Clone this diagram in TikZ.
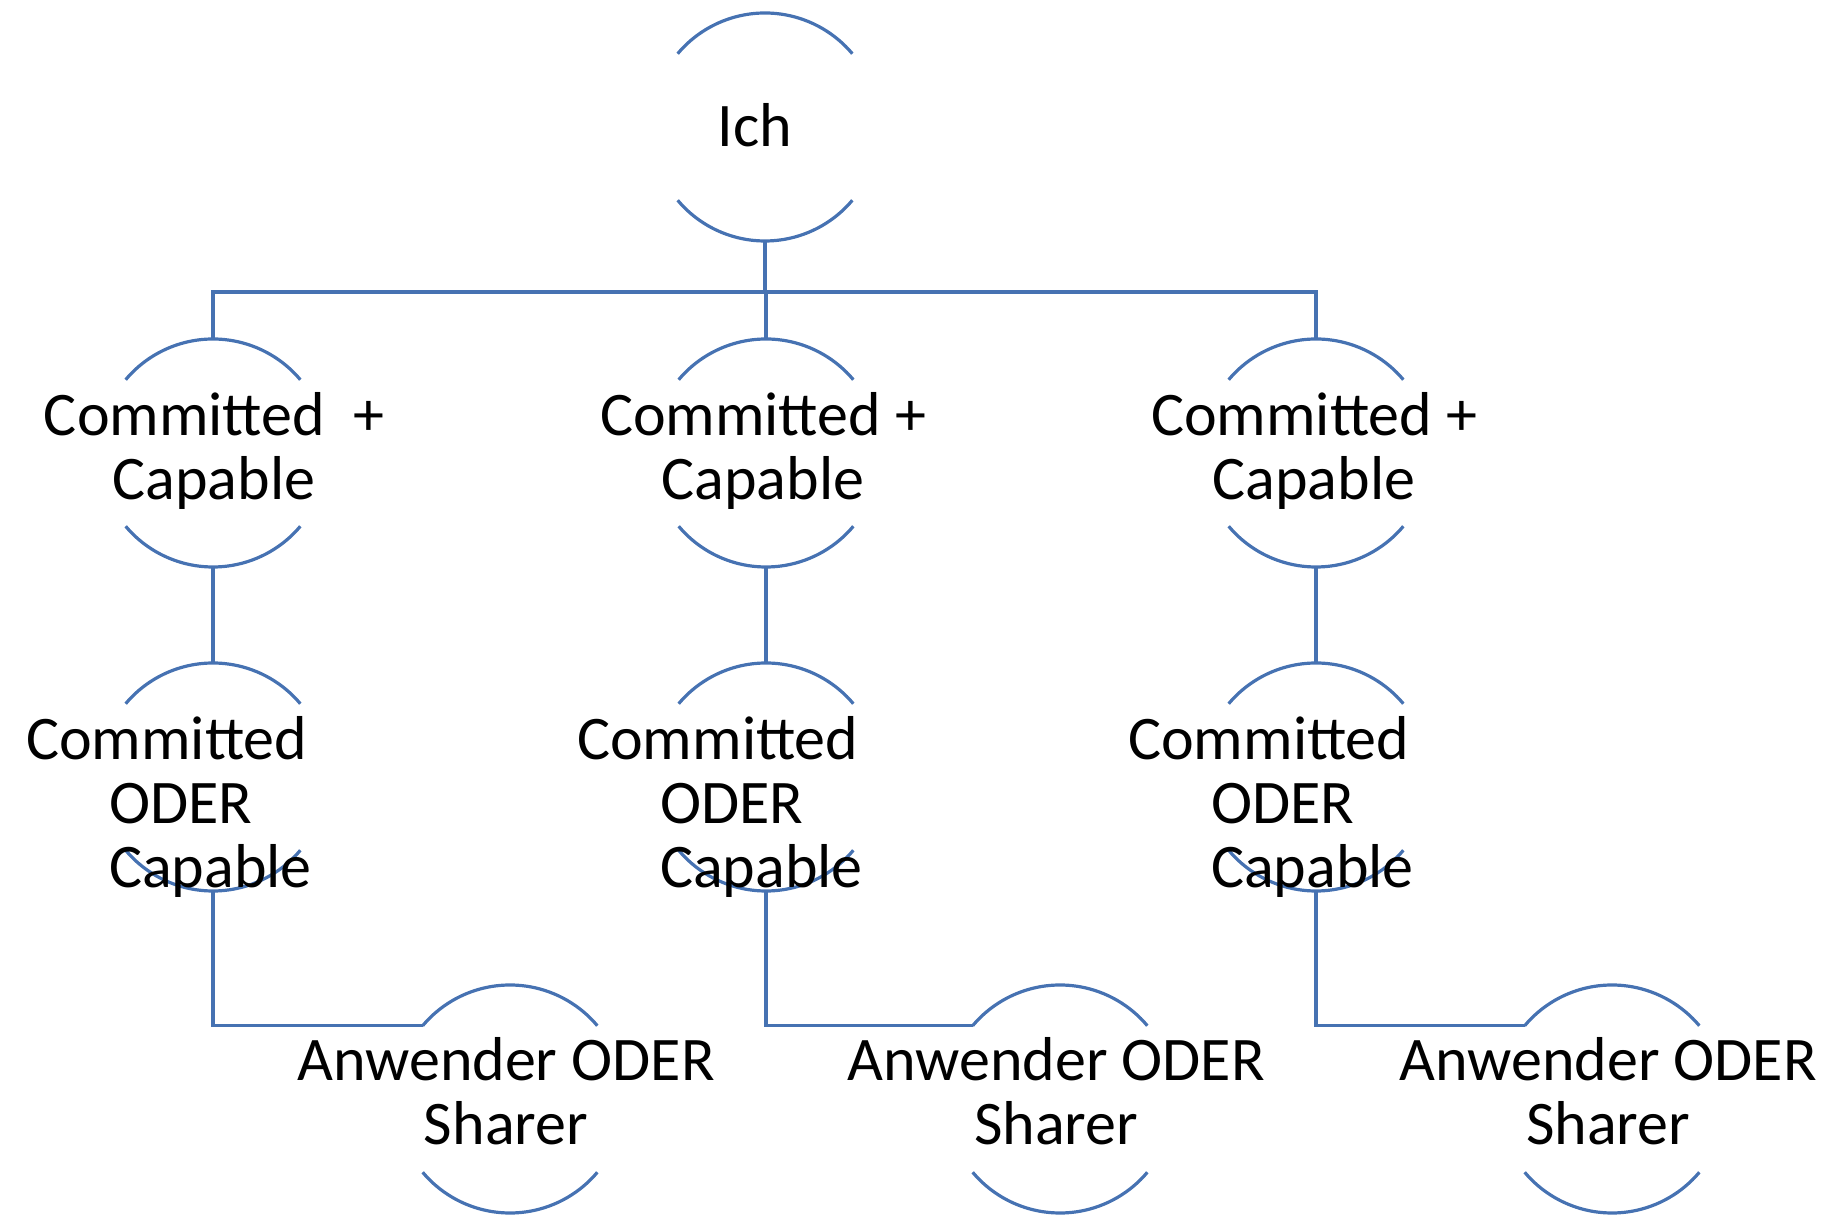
\documentclass[tikz,border=0pt]{standalone}
\usepackage{fontspec}
\setmainfont{Carlito}
\usepackage{xcolor}
\definecolor{ringblue}{RGB}{70,114,178}

% top and bottom arc of one ring
\newcommand{\halfarcs}[1]{%
  \draw[ring] (#1.140) arc[start angle=140,end angle=40,radius=114pt];
  \draw[ring] (#1.220) arc[start angle=220,end angle=320,radius=114pt];}

\begin{document}
\begin{tikzpicture}[x=1pt, y=1pt,
  ring/.style={draw=ringblue, line width=3.2pt},
  link/.style={draw=ringblue, line width=3.2pt},
  spot/.style={circle, minimum size=228pt, inner sep=0pt, outer sep=0pt},
  word/.style={font=\fontsize{62}{64}\selectfont, anchor=base, align=center, inner sep=0pt}]
	\useasboundingbox (0,0) rectangle (1825,1215);
	\node[spot] (ich) at (765,1088) {};
	\node[spot] (cc1) at (213,762) {};
	\node[spot] (cc2) at (766,762) {};
	\node[spot] (cc3) at (1316,762) {};
	\node[spot] (co1) at (213,438) {};
	\node[spot] (co2) at (766,438) {};
	\node[spot] (co3) at (1316,438) {};
	\node[spot] (as1) at (510,116) {};
	\node[spot] (as2) at (1060,116) {};
	\node[spot] (as3) at (1612,116) {};
	\coordinate (bus) at (0,923);
	\draw[link] (ich.south) -- (ich.south |- bus);
	\draw[link] (cc1.north) -- (cc1.north |- bus) -- (cc3.north |- bus) -- (cc3.north);
	\draw[link] (cc2.north) -- (cc2.north |- bus);
	\foreach \i in {1,2,3} {
		\draw[link] (cc\i.south) -- (co\i.north);
		\draw[link] (co\i.south) |- (as\i.140);
	}
	\foreach \n in {ich,cc1,cc2,cc3,co1,co2,co3,as1,as2,as3} {\halfarcs{\n}}
	% texts
	\node[word] (tich) at (755,1068) {Ich};
	\node[word] (tcc1) at (214,715) {Committed\ \ +\\Capable};
	\node[word] (tcc2) at (763,715) {Committed +\\Capable};
	\node[word] (tcc3) at (1314,715) {Committed +\\Capable};
	\node[word, anchor=base west, align=left] (tco1) at (26,327) {Committed\\\hspace*{83pt}ODER\\\hspace*{83pt}Capable};
	\node[word, anchor=base west, align=left] (tco2) at (577,327) {Committed\\\hspace*{83pt}ODER\\\hspace*{83pt}Capable};
	\node[word, anchor=base west, align=left] (tco3) at (1128,327) {Committed\\\hspace*{83pt}ODER\\\hspace*{83pt}Capable};
	\node[word] (tas1) at (506,70) {Anwender ODER\\Sharer};
	\node[word] (tas2) at (1056,70) {Anwender ODER\\Sharer};
	\node[word] (tas3) at (1608,70) {Anwender ODER\\Sharer};
\end{tikzpicture}
\end{document}
